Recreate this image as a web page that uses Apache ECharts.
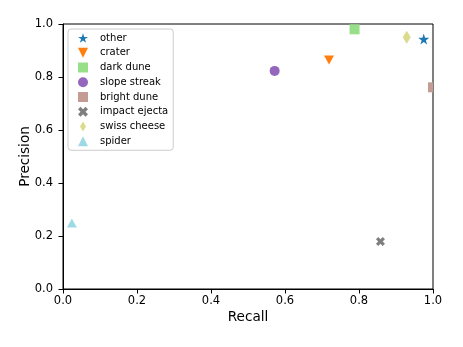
<!DOCTYPE html>
<html><head><meta charset="utf-8">
<script src="https://cdn.jsdelivr.net/npm/echarts@6/dist/echarts.min.js"></script>
<style>html,body{margin:0;padding:0;background:#fff}#c{width:463px;height:347px}</style>
</head><body><div id="c"></div>
<script>
const categories = ['other','crater','dark dune','slope streak','bright dune','impact ejecta','swiss cheese','spider'];
const recallValues = [0.975, 0.719, 0.788, 0.572, 1.0, 0.858, 0.929, 0.024];
const precisionValues = [0.943, 0.864, 0.980, 0.823, 0.761, 0.179, 0.950, 0.249];
const xTicks = ['0.0','0.2','0.4','0.6','0.8','1.0'];
const yTicks = ['0.0','0.2','0.4','0.6','0.8','1.0'];

const colors = ['#1f77b4','#ff7f0e','#98df8a','#9467bd','#c49c94','#7f7f7f','#dbdb8d','#9edae5'];
const xPath = 'path://M-1,-0.5 L-0.5,-1 L0,-0.5 L0.5,-1 L1,-0.5 L0.5,0 L1,0.5 L0.5,1 L0,0.5 L-0.5,1 L-1,0.5 L-0.5,0 Z';
const symbols = [
  'path://M0,-1 L0.2245,-0.309 L0.951,-0.309 L0.363,0.118 L0.588,0.809 L0,0.382 L-0.588,0.809 L-0.363,0.118 L-0.951,-0.309 L-0.2245,-0.309 Z',
  'path://M-1,-1 L1,-1 L0,1 Z',
  'rect',
  'circle',
  'rect',
  xPath,
  'path://M0,-1 L0.6,0 L0,1 L-0.6,0 Z',
  'triangle'
];
const sizes = [[11,11],[10,9],[10,10],[10,10],[5,10],[9,9],[8,13],[10,9]];
// bright dune sits on the right spine: only the half inside the axes is drawn
const offsets = [[0,0],[0,0],[0,0],[0,0],[-2.5,0],[0,0],[0,0],[0,0]];
const legendIcons = [symbols[0], symbols[1], 'rect', 'circle', 'rect', xPath, symbols[6], 'triangle'];

const series = categories.map((name, i) => ({
  name,
  type: 'scatter',
  symbol: symbols[i],
  symbolSize: sizes[i],
  symbolOffset: offsets[i],
  symbolKeepAspect: false,
  itemStyle: { color: colors[i], opacity: 1 },
  data: [[recallValues[i], precisionValues[i]]],
  z: 3
}));

const chart = echarts.init(document.getElementById('c'), null, {renderer: 'canvas'});
const font = 'DejaVu Sans';
chart.setOption({
  animation: false,
  backgroundColor: '#fff',
  textStyle: { fontFamily: font },
  grid: { left: 63, right: 30, top: 24, bottom: 58, show: true, borderColor: '#000', borderWidth: 1, backgroundColor: 'transparent' },
  legend: {
    orient: 'vertical',
    left: 68, top: 29,
    padding: [4, 5, 4, 10],
    itemWidth: 10, itemHeight: 10,
    itemGap: 4.75,
    selectedMode: false,
    backgroundColor: 'rgba(255,255,255,0.8)',
    borderColor: '#cccccc', borderWidth: 1, borderRadius: 3,
    textStyle: { fontFamily: font, fontSize: 10, color: '#000', padding: [0,0,0,7] },
    data: categories.map((name, i) => ({ name, icon: legendIcons[i] }))
  },
  xAxis: {
    type: 'value', min: 0, max: 1, interval: 0.2,
    name: 'Recall', nameLocation: 'middle', nameGap: 21, nameMoveOverlap: false,
    nameTextStyle: { fontFamily: font, fontSize: 13.6, color: '#000' },
    axisLine: { show: true, lineStyle: { color: '#000', width: 1 } },
    axisTick: { show: true, length: 4.5, lineStyle: { color: '#000' } },
    axisLabel: { fontFamily: font, fontSize: 11.5, color: '#000', margin: 6, formatter: v => xTicks[Math.round(v / 0.2)] },
    splitLine: { show: false }
  },
  yAxis: {
    type: 'value', min: 0, max: 1, interval: 0.2,
    name: 'Precision', nameLocation: 'middle', nameGap: 31, nameRotate: 90, nameMoveOverlap: false,
    nameTextStyle: { fontFamily: font, fontSize: 13.6, color: '#000' },
    axisLine: { show: true, lineStyle: { color: '#000', width: 1 } },
    axisTick: { show: true, length: 4.5, lineStyle: { color: '#000' } },
    axisLabel: { fontFamily: font, fontSize: 11.5, color: '#000', margin: 10, formatter: v => yTicks[Math.round(v / 0.2)] },
    splitLine: { show: false }
  },
  series
});
</script></body></html>
